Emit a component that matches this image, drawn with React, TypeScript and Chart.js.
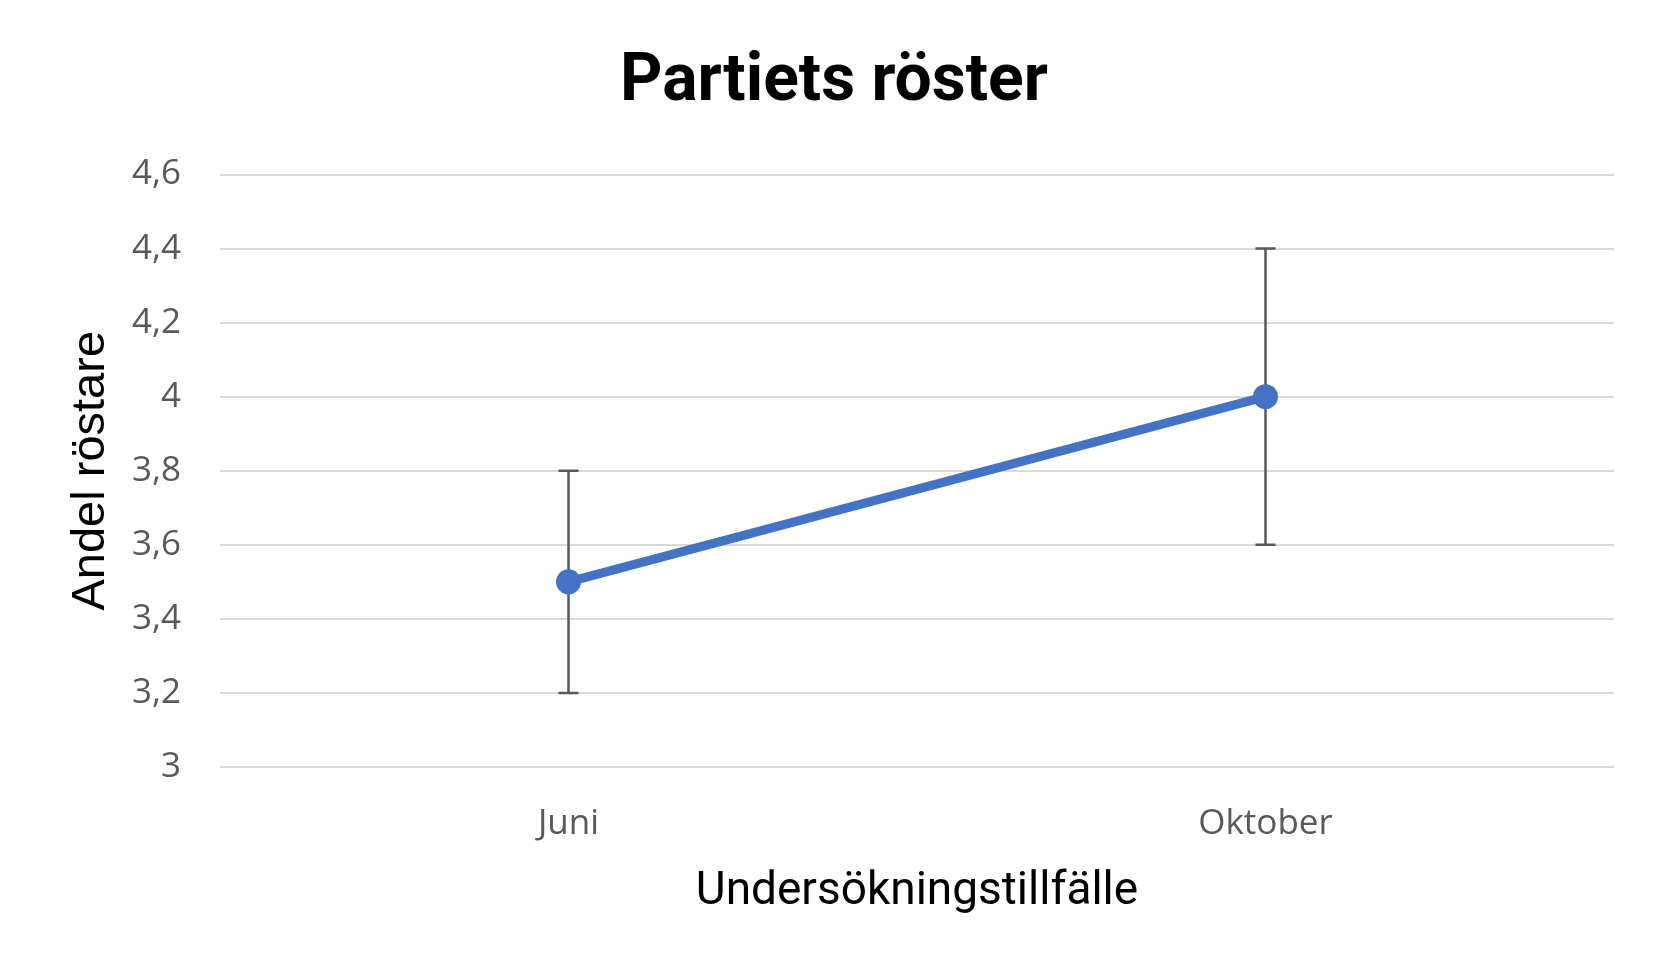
import React, { useEffect, useRef } from "react";
import { Chart, registerables } from "chart.js";

Chart.register(...registerables);

const categories = ["Juni", "Oktober"];
const values = [3.5, 4.0];
const errLow = [3.2, 3.6];
const errHigh = [3.8, 4.4];
const yMin = 3;
const yMax = 4.6;
const yStep = 0.2;

const W = 1668;
const H = 980;

const errorBarPlugin = {
  id: "errorBars",
  beforeDatasetsDraw(chart: any) {
    const { ctx, scales } = chart;
    const xs = scales.x;
    const ys = scales.y;
    ctx.save();
    ctx.strokeStyle = "#595959";
    ctx.lineWidth = 2.5;
    ctx.lineCap = "butt";
    for (let i = 0; i < categories.length; i++) {
      const x = xs.getPixelForValue(i);
      const yl = ys.getPixelForValue(errLow[i]);
      const yh = ys.getPixelForValue(errHigh[i]);
      ctx.beginPath();
      ctx.moveTo(x, yl);
      ctx.lineTo(x, yh);
      ctx.moveTo(x - 10, yl);
      ctx.lineTo(x + 10, yl);
      ctx.moveTo(x - 10, yh);
      ctx.lineTo(x + 10, yh);
      ctx.stroke();
    }
    ctx.restore();
  },
};

export default function App() {
  const ref = useRef<HTMLCanvasElement>(null);
  useEffect(() => {
    if (!ref.current) return;
    const chart = new Chart(ref.current, {
      type: "line",
      data: {
        labels: categories,
        datasets: [
          {
            data: values,
            borderColor: "#4472C4",
            backgroundColor: "#4472C4",
            borderWidth: 9,
            pointRadius: 12.5,
            pointBorderWidth: 0,
            pointBackgroundColor: "#4472C4",
            pointBorderColor: "#4472C4",
            tension: 0,
          },
        ],
      },
      options: {
        responsive: false,
        animation: false,
        layout: { padding: 0 },
        plugins: {
          legend: { display: false },
          tooltip: { enabled: false },
          title: {
            display: true,
            text: "Partiets röster",
            color: "#000000",
            font: { family: "Roboto", size: 66, weight: "bold", lineHeight: 1.2 },
            padding: { top: 43.4, bottom: 51.9 },
          },
        },
        scales: {
          x: {
            offset: true,
            grid: { display: false },
            border: { display: false },
            ticks: {
              color: "#595959",
              font: { family: "Open Sans", size: 35 },
              padding: 28,
            },
            title: {
              display: true,
              text: "Undersökningstillfälle",
              color: "#000000",
              font: { family: "Roboto", size: 46, lineHeight: 1.2 },
              padding: { top: 0, bottom: 60.4 },
            },
            afterFit(scale: any) {
              scale.height = 213;
            },
          },
          y: {
            min: yMin,
            max: yMax,
            grid: { color: "#d9d9d9", lineWidth: 2, drawTicks: false },
            border: { display: false },
            ticks: {
              stepSize: yStep,
              color: "#595959",
              font: { family: "Open Sans", size: 35 },
              padding: 39,
              callback: (v: any) => String(Math.round(Number(v) * 10) / 10).replace(".", ","),
            },
            title: {
              display: true,
              text: "Andel röstare",
              color: "#000000",
              font: { family: "Liberation Sans", size: 47, lineHeight: 1.2 },
              padding: { top: 62.8, bottom: 0 },
            },
            afterFit(scale: any) {
              scale.width = 220;
            },
          },
          yR: {
            position: "right",
            display: true,
            grid: { display: false, drawTicks: false },
            border: { display: false },
            ticks: { display: false },
            afterFit(scale: any) {
              scale.width = 54;
            },
          },
        },
      },
      plugins: [errorBarPlugin],
    } as any);
    return () => chart.destroy();
  }, []);
  return (
    <div style={{ position: "absolute", left: 0, top: 0, width: W, height: H, background: "#fff" }}>
      <canvas ref={ref} width={W} height={H} style={{ width: W, height: H }} />
    </div>
  );
}
